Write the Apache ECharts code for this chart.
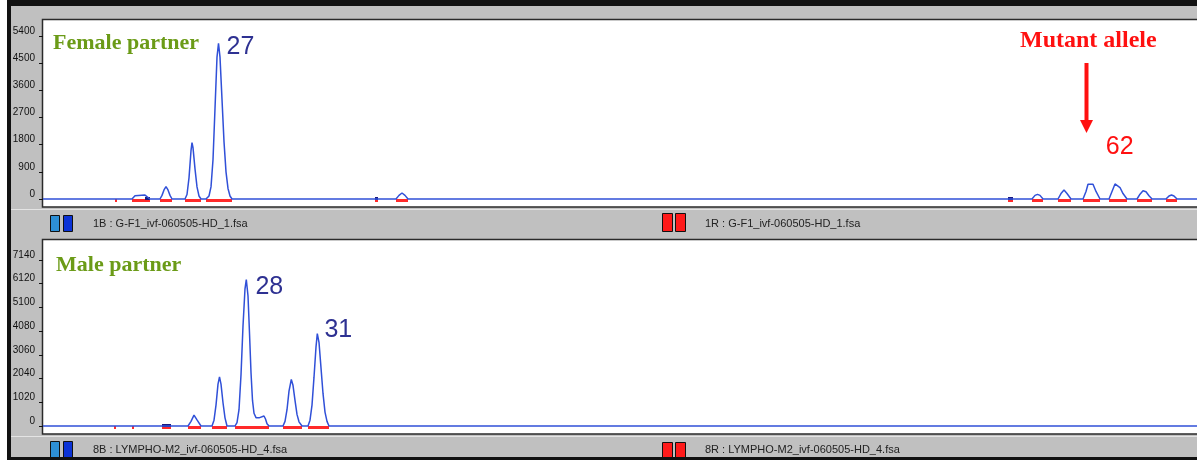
<!DOCTYPE html>
<html>
<head>
<meta charset="utf-8">
<script src="https://cdn.jsdelivr.net/npm/echarts@6/dist/echarts.min.js"></script>
<style>
  html, body { margin: 0; padding: 0; background: #c0c0c0; }
  #chart { width: 1197px; height: 460px; }
</style>
</head>
<body>
<div id="chart"></div>
<script>
// scan position (x) vs. signal (RFU)
const xRange = [0, 1154];

const topTicks = [0, 900, 1800, 2700, 3600, 4500, 5400];
const topTrace = [
  [0, 0], [89, 0], [92, 110], [94, 130], [102, 130], [104, 90], [107, 0],
  [117, 0], [119, 120], [121, 300], [123, 410], [125, 300], [127, 120], [129, 0],
  [142, 0], [144, 150], [146, 700], [148, 1600], [149, 1865], [150, 1700], [152, 1000], [154, 400], [156, 100], [158, 0],
  [163, 0], [166, 100], [168, 400], [170, 1300], [172, 3000], [174, 4700], [175.5, 5160], [177, 4700],
  [179, 3300], [181, 1900], [183, 900], [185, 350], [187, 100], [189, 0],
  [353, 0], [356, 120], [359, 200], [362, 120], [365, 0],
  [989, 0], [992, 120], [994.5, 155], [997, 120], [1000, 0],
  [1015, 0], [1018, 180], [1021, 300], [1024, 180], [1028, 0],
  [1040, 0], [1043, 250], [1045, 490], [1050, 490], [1053, 250], [1057, 0],
  [1066, 0], [1069, 250], [1072, 500], [1073.7, 520], [1077, 380], [1080, 180], [1084, 0],
  [1094, 0], [1097, 160], [1100, 275], [1103, 240], [1106, 110], [1109, 0],
  [1123, 0], [1126, 100], [1128.5, 130], [1131, 100], [1134, 0],
  [1154, 0]
];
const topBins = [
  [72, 74], [89, 107], [117, 129], [142, 158], [163, 189], [332, 335], [353, 365],
  [965, 970], [989, 1000], [1015, 1028], [1040, 1057], [1066, 1084], [1094, 1109], [1123, 1134]
];
const topDark = [[102, 107], [332, 335], [965, 970]];

const bottomTicks = [0, 1020, 2040, 3060, 4080, 5100, 6120, 7140];
const bottomTrace = [
  [0, 0], [145, 0], [148, 200], [151, 470], [154, 260], [158, 0],
  [169, 0], [171, 250], [173, 900], [175, 1800], [176.5, 2110], [178, 1800], [180, 1000], [182, 350], [184, 0],
  [192, 0], [194, 150], [196, 700], [198, 2200], [200, 4300], [202, 5900], [203.3, 6300], [205, 5600], [206.5, 4000],
  [208, 2300], [209.5, 1100], [211, 550], [213, 360], [216, 350], [218, 430], [221, 430], [222.5, 300], [224, 100], [226, 0],
  [240, 0], [242, 200], [244, 700], [246, 1500], [248.3, 2000], [250, 1750], [252, 1100], [254, 500], [256, 180], [259, 0],
  [265, 0], [267, 250], [269, 900], [271, 2100], [273, 3400], [274.3, 3975], [276, 3600], [278, 2500], [280, 1400], [282, 600], [284, 200], [286, 0],
  [1154, 0]
];
const bottomBins = [[71, 73], [89, 91], [119, 128], [145, 158], [169, 184], [192, 226], [240, 259], [265, 286]];
const bottomDark = [[119, 128]];

const traceBlue = '#3050d8';
const binRed = '#ff2a2a';
const labelNavy = '#2e3192';
const narrow = '"Liberation Sans Narrow", "Liberation Sans", Arial, sans-serif';

function binSeries(data, color, axisIdx, up, down, z) {
  return {
    type: 'custom',
    xAxisIndex: axisIdx, yAxisIndex: axisIdx,
    clip: false, z: z, silent: true,
    data: data,
    renderItem: function (params, api) {
      const a = api.coord([api.value(0), 0]);
      const b = api.coord([api.value(1), 0]);
      return {
        type: 'rect',
        shape: { x: a[0], y: a[1] - up, width: Math.max(b[0] - a[0], 2), height: up + down },
        style: { fill: color }
      };
    }
  };
}

function peakTag(coord, text, offset, color) {
  return {
    coord: coord, value: text,
    label: { show: true, position: 'inside', offset: offset, formatter: text,
             color: color, fontSize: 25, fontFamily: '"Liberation Sans", Arial, sans-serif' }
  };
}

function yAxisFor(ticks, gridIdx) {
  return {
    type: 'value', gridIndex: gridIdx,
    min: ticks[0], max: ticks[ticks.length - 1], interval: ticks[1] - ticks[0],
    axisLine: { show: false },
    axisTick: { show: true, length: 4, lineStyle: { color: '#111' } },
    splitLine: { show: false },
    axisLabel: { color: '#111', fontSize: 10, fontFamily: narrow, margin: 8, verticalAlign: 'bottom',
                 formatter: function (v) { return String(v); } }
  };
}

const chart = echarts.init(document.getElementById('chart'));
chart.setOption({
  backgroundColor: '#c0c0c0',
  animation: false,
  grid: [
    { left: 43, right: 0, top: 36, height: 163 },
    { left: 43, right: 0, top: 260, height: 166 }
  ],
  xAxis: [
    { type: 'value', gridIndex: 0, min: xRange[0], max: xRange[1], show: false },
    { type: 'value', gridIndex: 1, min: xRange[0], max: xRange[1], show: false }
  ],
  yAxis: [yAxisFor(topTicks, 0), yAxisFor(bottomTicks, 1)],
  series: [
    binSeries(topBins, binRed, 0, 0, 3, 3),
    binSeries(topDark, '#1a1a80', 0, 2, 1, 4),
    {
      type: 'line', xAxisIndex: 0, yAxisIndex: 0, data: topTrace, clip: false, z: 5,
      showSymbol: false, lineStyle: { color: traceBlue, width: 1.5 },
      markPoint: {
        symbol: 'circle', symbolSize: 1, itemStyle: { color: 'rgba(0,0,0,0)' },
        data: [
          peakTag([175.5, 5160], '27', [22, 4], labelNavy),
          peakTag([1073.7, 520], '62', [3, -36], '#ff1010')
        ]
      }
    },
    binSeries(bottomBins, binRed, 1, 0, 3, 3),
    binSeries(bottomDark, '#1a1a80', 1, 2, 1, 4),
    {
      type: 'line', xAxisIndex: 1, yAxisIndex: 1, data: bottomTrace, clip: false, z: 5,
      showSymbol: false, lineStyle: { color: traceBlue, width: 1.5 },
      markPoint: {
        symbol: 'circle', symbolSize: 1, itemStyle: { color: 'rgba(0,0,0,0)' },
        data: [
          peakTag([203.3, 6300], '28', [23, 8], labelNavy),
          peakTag([274.3, 3975], '31', [21, -3], labelNavy)
        ]
      }
    }
  ],
  graphic: { elements: [
    // window chrome
    { type: 'rect', z: -20, shape: { x: 0, y: 0, width: 7, height: 460 }, style: { fill: '#fff' } },
    { type: 'rect', z: -20, shape: { x: 7, y: 0, width: 1190, height: 6 }, style: { fill: '#111' } },
    { type: 'rect', z: -20, shape: { x: 7, y: 0, width: 4, height: 460 }, style: { fill: '#111' } },
    // plot areas
    { type: 'rect', z: -10, shape: { x: 42.5, y: 19.5, width: 1160, height: 187.5 }, style: { fill: '#fff', stroke: '#2a2a2a', lineWidth: 1.5 } },
    { type: 'rect', z: -10, shape: { x: 42.5, y: 239.5, width: 1160, height: 194.5 }, style: { fill: '#fff', stroke: '#2a2a2a', lineWidth: 1.5 } },
    { type: 'rect', z: -10, shape: { x: 11, y: 209, width: 1186, height: 1 }, style: { fill: '#e4e4e4' } },
    { type: 'rect', z: -10, shape: { x: 11, y: 436, width: 1186, height: 1 }, style: { fill: '#e4e4e4' } },
    // dye icons and file names
    { type: 'rect', z: 10, shape: { x: 50.5, y: 215.5, width: 9, height: 16 }, style: { fill: '#2d8fd5', stroke: '#111' } },
    { type: 'rect', z: 10, shape: { x: 63.5, y: 215.5, width: 9, height: 16 }, style: { fill: '#0b33d6', stroke: '#111' } },
    { type: 'rect', z: 10, shape: { x: 662.5, y: 213.5, width: 10, height: 18 }, style: { fill: '#ff1a1a', stroke: '#111' } },
    { type: 'rect', z: 10, shape: { x: 675.5, y: 213.5, width: 10, height: 18 }, style: { fill: '#ff1a1a', stroke: '#111' } },
    { type: 'text', z: 10, x: 93, y: 224, style: { text: '1B : G-F1_ivf-060505-HD_1.fsa', fill: '#222', fontSize: 11, fontFamily: narrow, verticalAlign: 'middle' } },
    { type: 'text', z: 10, x: 705, y: 224, style: { text: '1R : G-F1_ivf-060505-HD_1.fsa', fill: '#222', fontSize: 11, fontFamily: narrow, verticalAlign: 'middle' } },
    { type: 'rect', z: 10, shape: { x: 50.5, y: 441.5, width: 9, height: 16 }, style: { fill: '#2d8fd5', stroke: '#111' } },
    { type: 'rect', z: 10, shape: { x: 63.5, y: 441.5, width: 9, height: 16 }, style: { fill: '#0b33d6', stroke: '#111' } },
    { type: 'rect', z: 10, shape: { x: 662.5, y: 442.5, width: 10, height: 18 }, style: { fill: '#ff1a1a', stroke: '#111' } },
    { type: 'rect', z: 10, shape: { x: 675.5, y: 442.5, width: 10, height: 18 }, style: { fill: '#ff1a1a', stroke: '#111' } },
    { type: 'text', z: 10, x: 93, y: 450, style: { text: '8B : LYMPHO-M2_ivf-060505-HD_4.fsa', fill: '#222', fontSize: 11, fontFamily: narrow, verticalAlign: 'middle' } },
    { type: 'text', z: 10, x: 705, y: 450, style: { text: '8R : LYMPHO-M2_ivf-060505-HD_4.fsa', fill: '#222', fontSize: 11, fontFamily: narrow, verticalAlign: 'middle' } },
    { type: 'rect', z: 20, shape: { x: 7, y: 457, width: 1190, height: 3 }, style: { fill: '#111' } },
    // annotations
    { type: 'text', z: 30, x: 53, y: 43, style: { text: 'Female partner', fill: '#6b9b17', fontSize: 22, fontWeight: 'bold', fontFamily: '"Liberation Serif", "Times New Roman", serif', verticalAlign: 'middle' } },
    { type: 'text', z: 30, x: 56, y: 265, style: { text: 'Male partner', fill: '#6b9b17', fontSize: 22, fontWeight: 'bold', fontFamily: '"Liberation Serif", "Times New Roman", serif', verticalAlign: 'middle' } },
    { type: 'text', z: 30, x: 1020, y: 41, style: { text: 'Mutant allele', fill: '#ff1010', fontSize: 24, fontWeight: 'bold', fontFamily: '"Liberation Serif", "Times New Roman", serif', verticalAlign: 'middle' } },
    { type: 'line', z: 30, shape: { x1: 1086.5, y1: 63, x2: 1086.5, y2: 122 }, style: { stroke: '#ff1010', lineWidth: 4 } },
    { type: 'polygon', z: 30, shape: { points: [[1080, 120], [1093, 120], [1086.5, 133]] }, style: { fill: '#ff1010' } }
  ] }
});
</script>
</body>
</html>
